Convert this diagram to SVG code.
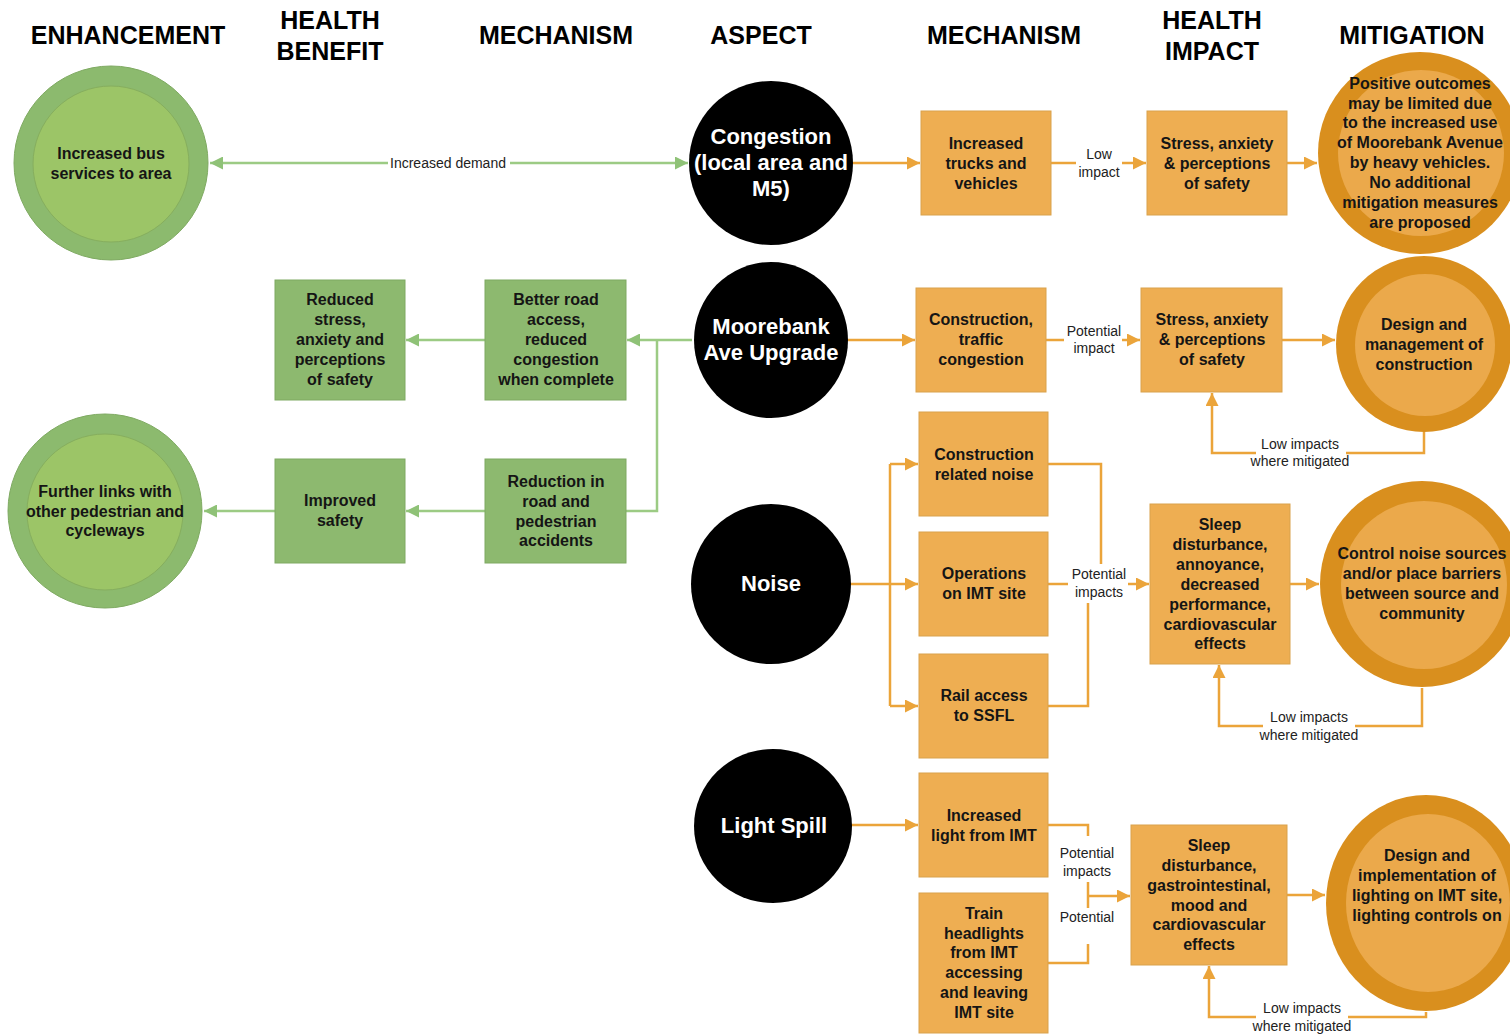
<svg xmlns="http://www.w3.org/2000/svg" width="1510" height="1036" viewBox="0 0 1510 1036">
<style>
.hdr{font-family:'Liberation Sans',Arial,sans-serif;font-weight:bold;font-size:25px;text-anchor:middle;fill:#000}
.t{font-family:'Liberation Sans',Arial,sans-serif;font-weight:bold;font-size:16px;text-anchor:middle;fill:#151515}
.w{font-family:'Liberation Sans',Arial,sans-serif;font-weight:bold;font-size:22px;text-anchor:middle;fill:#fff}
.lbl{font-family:'Liberation Sans',Arial,sans-serif;font-size:14px;text-anchor:middle;fill:#222}
.ob{fill:#EEAE52;stroke:#D9A24C;stroke-width:1}
.gb{fill:#8DB96F;stroke:#7FA963;stroke-width:1}
.gro{fill:#8CBA6E;stroke:#7FAA62;stroke-width:1}
.gri{fill:#9CC567;stroke:#86AE5E;stroke-width:1}
.oro{fill:#D98F1E}
.ori{fill:#EBA94B}
.blk{fill:#000}
.co{stroke:#EBA43A;stroke-width:2.5;fill:none}
.cg{stroke:#9CCB84;stroke-width:2.5;fill:none}
</style>
<defs>
<marker id="ao" viewBox="0 0 12 12" refX="12" refY="6" markerWidth="13" markerHeight="13" markerUnits="userSpaceOnUse" orient="auto"><path d="M0,0 L12,6 L0,12 z" fill="#EBA43A"/></marker>
<marker id="ag" viewBox="0 0 12 12" refX="12" refY="6" markerWidth="13" markerHeight="13" markerUnits="userSpaceOnUse" orient="auto-start-reverse"><path d="M0,0 L12,6 L0,12 z" fill="#8FC277"/></marker>
</defs>
<rect width="1510" height="1036" fill="#fff"/>

<g id="headers">
<text class="hdr" x="128" y="44">ENHANCEMENT</text>
<text class="hdr" x="330" y="29">HEALTH</text>
<text class="hdr" x="330" y="60">BENEFIT</text>
<text class="hdr" x="556" y="44">MECHANISM</text>
<text class="hdr" x="761" y="44">ASPECT</text>
<text class="hdr" x="1004" y="44">MECHANISM</text>
<text class="hdr" x="1212" y="29">HEALTH</text>
<text class="hdr" x="1212" y="60">IMPACT</text>
<text class="hdr" x="1412" y="44">MITIGATION</text>
</g>

<g id="connectors">
<path class="cg" d="M210,163 H688" marker-start="url(#ag)" marker-end="url(#ag)"/>
<path class="cg" d="M692,340 H627" marker-end="url(#ag)"/>
<path class="cg" d="M626,511 H657 V340"/>
<path class="cg" d="M485,340 H406" marker-end="url(#ag)"/>
<path class="cg" d="M485,511 H406" marker-end="url(#ag)"/>
<path class="cg" d="M275,511 H204" marker-end="url(#ag)"/>

<path class="co" d="M853,163 H920" marker-end="url(#ao)"/>
<path class="co" d="M1051,163 H1076"/>
<path class="co" d="M1122,163 H1146" marker-end="url(#ao)"/>
<path class="co" d="M1287,163 H1317" marker-end="url(#ao)"/>

<path class="co" d="M848,340 H915" marker-end="url(#ao)"/>
<path class="co" d="M1046,340 H1064"/>
<path class="co" d="M1122,340 H1140" marker-end="url(#ao)"/>
<path class="co" d="M1282,340 H1335" marker-end="url(#ao)"/>
<path class="co" d="M1424,432 V453 H1212 V393" marker-end="url(#ao)"/>

<path class="co" d="M851,584 H918" marker-end="url(#ao)"/>
<path class="co" d="M890,464 V706"/>
<path class="co" d="M890,464 H918" marker-end="url(#ao)"/>
<path class="co" d="M890,706 H918" marker-end="url(#ao)"/>
<path class="co" d="M1048,464 H1101 V564"/>
<path class="co" d="M1048,584 H1068"/>
<path class="co" d="M1128,584 H1149" marker-end="url(#ao)"/>
<path class="co" d="M1048,706 H1088 V603"/>
<path class="co" d="M1290,584 H1319" marker-end="url(#ao)"/>
<path class="co" d="M1422,688 V726 H1219 V665" marker-end="url(#ao)"/>

<path class="co" d="M851,825 H918" marker-end="url(#ao)"/>
<path class="co" d="M1048,825 H1088 V836"/>
<path class="co" d="M1088,882 V908"/>
<path class="co" d="M1088,896 H1130" marker-end="url(#ao)"/>
<path class="co" d="M1048,963 H1088 V944"/>
<path class="co" d="M1287,895 H1325" marker-end="url(#ao)"/>
<path class="co" d="M1426,1012 V1017 H1209 V966" marker-end="url(#ao)"/>

<rect x="388" y="154" width="122" height="18" fill="#fff"/>
<text class="lbl" x="448" y="168">Increased demand</text>
<text class="lbl" x="1099" y="159">Low</text>
<text class="lbl" x="1099" y="177">impact</text>
<text class="lbl" x="1094" y="336">Potential</text>
<text class="lbl" x="1094" y="353">impact</text>
<rect x="1256" y="436" width="90" height="32" fill="#fff"/>
<text class="lbl" x="1300" y="449">Low impacts</text>
<text class="lbl" x="1300" y="466">where mitigated</text>
<text class="lbl" x="1099" y="579">Potential</text>
<text class="lbl" x="1099" y="597">impacts</text>
<rect x="1263" y="709" width="92" height="32" fill="#fff"/>
<text class="lbl" x="1309" y="722">Low impacts</text>
<text class="lbl" x="1309" y="740">where mitigated</text>
<text class="lbl" x="1087" y="858">Potential</text>
<text class="lbl" x="1087" y="876">impacts</text>
<text class="lbl" x="1087" y="922">Potential</text>
<rect x="1256" y="1000" width="92" height="34" fill="#fff"/>
<text class="lbl" x="1302" y="1013">Low impacts</text>
<text class="lbl" x="1302" y="1031">where mitigated</text>
</g>

<g id="enh-bus">
<ellipse class="gro" cx="111" cy="163" rx="97" ry="97"/>
<ellipse class="gri" cx="111" cy="164" rx="78" ry="78"/>
<text class="t" x="111" y="159">Increased bus</text>
<text class="t" x="111" y="179">services to area</text>
</g>
<g id="enh-links">
<ellipse class="gro" cx="105" cy="511" rx="97" ry="97"/>
<ellipse class="gri" cx="105" cy="512" rx="78" ry="78"/>
<text class="t" x="105" y="497">Further links with</text>
<text class="t" x="105" y="517">other pedestrian and</text>
<text class="t" x="105" y="536">cycleways</text>
</g>

<g id="hb-stress">
<rect class="gb" x="275" y="280" width="130" height="120"/>
<text class="t" x="340" y="305">Reduced</text>
<text class="t" x="340" y="325">stress,</text>
<text class="t" x="340" y="345">anxiety and</text>
<text class="t" x="340" y="365">perceptions</text>
<text class="t" x="340" y="385">of safety</text>
</g>
<g id="mech-road">
<rect class="gb" x="485" y="280" width="141" height="120"/>
<text class="t" x="556" y="305">Better road</text>
<text class="t" x="556" y="325">access,</text>
<text class="t" x="556" y="345">reduced</text>
<text class="t" x="556" y="365">congestion</text>
<text class="t" x="556" y="385">when complete</text>
</g>
<g id="hb-safety">
<rect class="gb" x="275" y="459" width="130" height="104"/>
<text class="t" x="340" y="506">Improved</text>
<text class="t" x="340" y="526">safety</text>
</g>
<g id="mech-accidents">
<rect class="gb" x="485" y="459" width="141" height="104"/>
<text class="t" x="556" y="487">Reduction in</text>
<text class="t" x="556" y="507">road and</text>
<text class="t" x="556" y="527">pedestrian</text>
<text class="t" x="556" y="546">accidents</text>
</g>

<g id="asp-congestion">
<ellipse class="blk" cx="771" cy="163" rx="82" ry="82"/>
<text class="w" x="771" y="144">Congestion</text>
<text class="w" x="771" y="170">(local area and</text>
<text class="w" x="771" y="196">M5)</text>
</g>
<g id="asp-moorebank">
<ellipse class="blk" cx="771" cy="340" rx="77" ry="78"/>
<text class="w" x="771" y="334">Moorebank</text>
<text class="w" x="771" y="360">Ave Upgrade</text>
</g>
<g id="asp-noise">
<ellipse class="blk" cx="771" cy="584" rx="80" ry="80"/>
<text class="w" x="771" y="591">Noise</text>
</g>
<g id="asp-light">
<ellipse class="blk" cx="773" cy="826" rx="79" ry="77"/>
<text class="w" x="774" y="833">Light Spill</text>
</g>

<g id="m-trucks">
<rect class="ob" x="921" y="111" width="130" height="104"/>
<text class="t" x="986" y="149">Increased</text>
<text class="t" x="986" y="169">trucks and</text>
<text class="t" x="986" y="189">vehicles</text>
</g>
<g id="hi-stress1">
<rect class="ob" x="1147" y="111" width="140" height="104"/>
<text class="t" x="1217" y="149">Stress, anxiety</text>
<text class="t" x="1217" y="169">&amp; perceptions</text>
<text class="t" x="1217" y="189">of safety</text>
</g>
<g id="mit-positive">
<ellipse class="oro" cx="1420" cy="153" rx="102" ry="101"/>
<ellipse class="ori" cx="1421" cy="153" rx="83" ry="83"/>
<text class="t" x="1420" y="89">Positive outcomes</text>
<text class="t" x="1420" y="109">may be limited due</text>
<text class="t" x="1420" y="128">to the increased use</text>
<text class="t" x="1420" y="148">of Moorebank Avenue</text>
<text class="t" x="1420" y="168">by heavy vehicles.</text>
<text class="t" x="1420" y="188">No additional</text>
<text class="t" x="1420" y="208">mitigation measures</text>
<text class="t" x="1420" y="228">are proposed</text>
</g>

<g id="m-construction">
<rect class="ob" x="916" y="288" width="130" height="104"/>
<text class="t" x="981" y="325">Construction,</text>
<text class="t" x="981" y="345">traffic</text>
<text class="t" x="981" y="365">congestion</text>
</g>
<g id="hi-stress2">
<rect class="ob" x="1141" y="288" width="141" height="104"/>
<text class="t" x="1212" y="325">Stress, anxiety</text>
<text class="t" x="1212" y="345">&amp; perceptions</text>
<text class="t" x="1212" y="365">of safety</text>
</g>
<g id="mit-design-construction">
<ellipse class="oro" cx="1424" cy="344" rx="88" ry="88"/>
<ellipse class="ori" cx="1425" cy="345" rx="70" ry="71"/>
<text class="t" x="1424" y="330">Design and</text>
<text class="t" x="1424" y="350">management of</text>
<text class="t" x="1424" y="370">construction</text>
</g>

<g id="m-noise-construction">
<rect class="ob" x="919" y="412" width="129" height="104"/>
<text class="t" x="984" y="460">Construction</text>
<text class="t" x="984" y="480">related noise</text>
</g>
<g id="m-operations">
<rect class="ob" x="919" y="532" width="129" height="104"/>
<text class="t" x="984" y="579">Operations</text>
<text class="t" x="984" y="599">on IMT site</text>
</g>
<g id="m-rail">
<rect class="ob" x="919" y="654" width="129" height="104"/>
<text class="t" x="984" y="701">Rail access</text>
<text class="t" x="984" y="721">to SSFL</text>
</g>
<g id="hi-sleep1">
<rect class="ob" x="1150" y="504" width="140" height="160"/>
<text class="t" x="1220" y="530">Sleep</text>
<text class="t" x="1220" y="550">disturbance,</text>
<text class="t" x="1220" y="570">annoyance,</text>
<text class="t" x="1220" y="590">decreased</text>
<text class="t" x="1220" y="610">performance,</text>
<text class="t" x="1220" y="630">cardiovascular</text>
<text class="t" x="1220" y="649">effects</text>
</g>
<g id="mit-noise">
<ellipse class="oro" cx="1422" cy="584" rx="102" ry="103"/>
<ellipse class="ori" cx="1424" cy="585" rx="83" ry="84"/>
<text class="t" x="1422" y="559">Control noise sources</text>
<text class="t" x="1422" y="579">and/or place barriers</text>
<text class="t" x="1422" y="599">between source and</text>
<text class="t" x="1422" y="619">community</text>
</g>

<g id="m-light">
<rect class="ob" x="919" y="773" width="129" height="104"/>
<text class="t" x="984" y="821">Increased</text>
<text class="t" x="984" y="841">light from IMT</text>
</g>
<g id="m-train">
<rect class="ob" x="919" y="893" width="129" height="140"/>
<text class="t" x="984" y="919">Train</text>
<text class="t" x="984" y="939">headlights</text>
<text class="t" x="984" y="958">from IMT</text>
<text class="t" x="984" y="978">accessing</text>
<text class="t" x="984" y="998">and leaving</text>
<text class="t" x="984" y="1018">IMT site</text>
</g>
<g id="hi-sleep2">
<rect class="ob" x="1131" y="825" width="156" height="140"/>
<text class="t" x="1209" y="851">Sleep</text>
<text class="t" x="1209" y="871">disturbance,</text>
<text class="t" x="1209" y="891">gastrointestinal,</text>
<text class="t" x="1209" y="911">mood and</text>
<text class="t" x="1209" y="930">cardiovascular</text>
<text class="t" x="1209" y="950">effects</text>
</g>
<g id="mit-lighting">
<ellipse class="oro" cx="1426" cy="903" rx="100" ry="108"/>
<ellipse class="ori" cx="1428" cy="903" rx="82" ry="89"/>
<text class="t" x="1427" y="861">Design and</text>
<text class="t" x="1427" y="881">implementation of</text>
<text class="t" x="1427" y="901">lighting on IMT site,</text>
<text class="t" x="1427" y="921">lighting controls on</text>
</g>
</svg>
